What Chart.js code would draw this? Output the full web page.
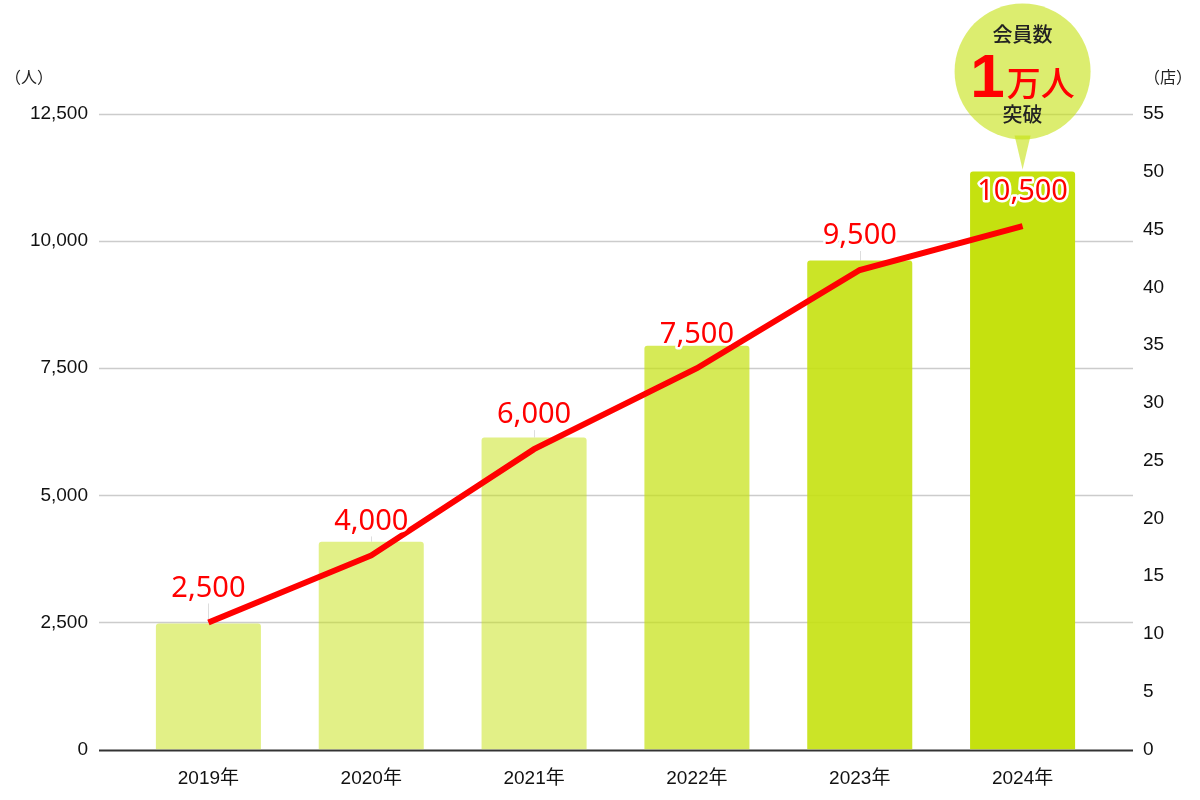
<!DOCTYPE html>
<html>
<head>
<meta charset="utf-8">
<script src="https://cdn.jsdelivr.net/npm/chart.js@4"></script>
<style>
  html, body { margin: 0; padding: 0; background: #fff; }
  #wrap { width: 1200px; height: 800px; }
</style>
</head>
<body>
<div id="wrap"><canvas id="memberChart" width="1200" height="800"></canvas></div>
<script>
// chart data
var years = ['2019年', '2020年', '2021年', '2022年', '2023年', '2024年'];
var members = [2480, 4090, 6140, 7940, 9620, 11370];
var memberLabels = ['2,500', '4,000', '6,000', '7,500', '9,500', '10,500'];
var stores = [11, 16.8, 26, 33, 41.5, 45.3];
var barAlpha = [0.5, 0.5, 0.5, 0.7, 0.9, 1];
var leftMax = 12500, leftStep = 2500;
var rightMax = 55, rightStep = 5;
var leftUnit = '（人）', rightUnit = '（店）';
var bubbleTop = '会員数', bubbleBig = '1', bubbleMid = '万人', bubbleBottom = '突破';

var numFont = '"Liberation Sans", Arial, "Noto Sans CJK JP", sans-serif';
var jpFont = '"Noto Sans CJK JP", "Liberation Sans", sans-serif';
var labelFont = '"Noto Sans", "Noto Sans CJK JP", sans-serif';

var extras = {
    id: 'extras',
    beforeDatasetsDraw: function(chart) {
        var ctx = chart.ctx;
        var yl = chart.scales.y;
        var ca = chart.chartArea;
        var x0 = ca.left - 28, x1 = ca.right + 29;
        ctx.save();
        // grid lines
        yl.ticks.forEach(function(t) {
            var y = Math.round(yl.getPixelForValue(t.value)) + 0.5;
            ctx.beginPath();
            if (t.value === 0) {
                ctx.strokeStyle = '#333';
                ctx.lineWidth = 2;
            } else {
                ctx.strokeStyle = '#cccccc';
                ctx.lineWidth = 1.5;
            }
            ctx.moveTo(x0, y);
            ctx.lineTo(x1, y);
            ctx.stroke();
        });
        // unit labels
        ctx.fillStyle = '#222';
        ctx.font = '16px ' + jpFont;
        ctx.textAlign = 'center';
        ctx.textBaseline = 'middle';
        ctx.fillText(leftUnit, 29, yl.top - 37);
        ctx.fillText(rightUnit, 1168, yl.top - 37);

        // leader lines
        var lineMeta = chart.getDatasetMeta(1);
        var barMeta = chart.getDatasetMeta(0);
        ctx.strokeStyle = '#dddddd';
        ctx.lineWidth = 1;
        lineMeta.data.forEach(function(pt, i) {
            var bar = barMeta.data[i];
            var yTop = pt.y - 36 + 17;
            var yEnd = Math.min(pt.y, bar.y);
            if (yEnd > yTop) {
                ctx.beginPath();
                ctx.moveTo(Math.round(pt.x) + 0.5, yTop);
                ctx.lineTo(Math.round(pt.x) + 0.5, yEnd);
                ctx.stroke();
            }
        });

        // bubble over last bar
        var last = barMeta.data[barMeta.data.length - 1];
        var cx = last.x, cy = last.y - 100, r = 68;
        ctx.fillStyle = 'rgba(197, 225, 15, 0.6)';
        ctx.beginPath();
        ctx.arc(cx, cy, r, 0, Math.PI * 2);
        ctx.fill();
        ctx.beginPath();
        ctx.moveTo(cx - 8, cy + r - 4);
        ctx.lineTo(cx + 8, cy + r - 4);
        ctx.lineTo(cx, last.y - 2);
        ctx.closePath();
        ctx.fill();

        ctx.fillStyle = '#222';
        ctx.font = '500 20px ' + jpFont;
        ctx.textAlign = 'center';
        ctx.textBaseline = 'middle';
        ctx.fillText(bubbleTop, cx, cy - 37);
        ctx.fillText(bubbleBottom, cx, cy + 43);

        ctx.fillStyle = '#ff0000';
        ctx.textBaseline = 'alphabetic';
        ctx.font = 'bold 62px ' + numFont;
        var wBig = ctx.measureText(bubbleBig).width;
        ctx.font = '500 34px ' + jpFont;
        var wMid = ctx.measureText(bubbleMid).width;
        var sx = cx - (wBig + wMid + 2) / 2;
        ctx.textAlign = 'left';
        ctx.font = 'bold 62px ' + numFont;
        ctx.fillText(bubbleBig, sx, cy + 26);
        ctx.font = '500 34px ' + jpFont;
        ctx.fillText(bubbleMid, sx + wBig + 2, cy + 25);
        ctx.restore();
    },
    afterDatasetsDraw: function(chart) {
        var ctx = chart.ctx;
        var lineMeta = chart.getDatasetMeta(1);
        ctx.save();
        ctx.font = '29px ' + labelFont;
        ctx.textAlign = 'center';
        ctx.textBaseline = 'middle';
        ctx.lineJoin = 'round';
        lineMeta.data.forEach(function(pt, i) {
            ctx.strokeStyle = '#ffffff';
            ctx.lineWidth = 5;
            ctx.strokeText(memberLabels[i], pt.x, pt.y - 34);
            ctx.fillStyle = '#ff0000';
            ctx.fillText(memberLabels[i], pt.x, pt.y - 34);
        });
        ctx.restore();
    }
};

var ctx = document.getElementById('memberChart');
var myChart = new Chart(ctx, {
    type: 'bar',
    data: {
        labels: years,
        datasets: [{
            type: 'bar',
            label: '会員数',
            data: members,
            yAxisID: 'y',
            backgroundColor: barAlpha.map(function(a) { return 'rgba(197, 225, 15, ' + a + ')'; }),
            borderWidth: 0,
            borderRadius: { topLeft: 3, topRight: 3 },
            borderSkipped: 'bottom',
            categoryPercentage: 1,
            barPercentage: 0.645,
            order: 2
        }, {
            type: 'line',
            label: '店舗数',
            data: stores,
            yAxisID: 'y1',
            borderColor: '#ff0000',
            borderWidth: 6,
            pointRadius: 0,
            tension: 0,
            fill: false,
            order: 1
        }]
    },
    options: {
        responsive: false,
        animation: false,
        layout: { padding: { top: 114, left: 0, right: 0, bottom: 0 } },
        plugins: {
            legend: { display: false },
            tooltip: { enabled: false }
        },
        scales: {
            x: {
                offset: true,
                grid: { display: false },
                border: { display: false },
                ticks: {
                    color: '#111',
                    font: { family: numFont, size: 19 },
                    padding: 10
                },
                afterFit: function(s) { s.height = 44; }
            },
            y: {
                position: 'left',
                min: 0,
                max: leftMax,
                grid: { display: false, drawTicks: false },
                border: { display: false },
                ticks: {
                    stepSize: leftStep,
                    color: '#111',
                    font: { family: numFont, size: 19 },
                    padding: 39,
                    callback: function(v) { return v.toLocaleString('en-US'); }
                },
                afterFit: function(s) { s.width = 127; }
            },
            y1: {
                position: 'right',
                min: 0,
                max: rightMax,
                grid: { display: false, drawTicks: false },
                border: { display: false },
                ticks: {
                    stepSize: rightStep,
                    color: '#111',
                    font: { family: numFont, size: 19 },
                    padding: 39
                },
                afterFit: function(s) { s.width = 96; }
            }
        }
    },
    plugins: [extras]
});
</script>
</body>
</html>
